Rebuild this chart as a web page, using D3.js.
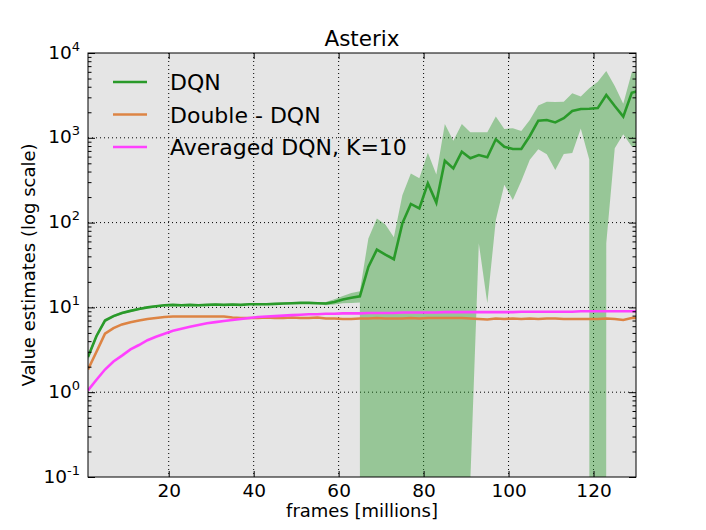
<!DOCTYPE html>
<html>
<head>
<meta charset="utf-8">
<script src="https://cdn.jsdelivr.net/npm/d3@7"></script>
<style>
    body { margin: 0; background: #fff; }
    text { font-family: "DejaVu Sans", sans-serif; fill: #000; }
</style>
</head>
<body>
<svg id="chart" width="706" height="530"></svg>
<script>
'use strict';

/*==============================
=            Data              =
==============================*/

// frames [millions], one sample every 2M frames (the last one falls just past the x limit)
var frames = [1, 3, 5, 7, 9, 11, 13, 15, 17, 19, 21, 23, 25, 27, 29, 31, 33, 35, 37, 39,
              41, 43, 45, 47, 49, 51, 53, 55, 57, 59, 61, 63, 65, 67, 69, 71, 73, 75, 77, 79,
              81, 83, 85, 87, 89, 91, 93, 95, 97, 99, 101, 103, 105, 107, 109, 111, 113, 115, 117, 119,
              121, 123, 125, 127, 129, 131];

var dqnMean = [2.6, 4.6, 7.0, 7.9, 8.6, 9.1, 9.6, 10.0, 10.3, 10.6, 10.7, 10.6, 10.7, 10.6, 10.7, 10.8, 10.7, 10.8, 10.7, 10.9,
               10.9, 10.9, 11.0, 11.1, 11.2, 11.3, 11.3, 11.2, 11.1, 11.6, 12.4, 13.0, 13.5, 30, 48, 42, 37, 98, 166, 147,
               290, 172, 537, 435, 686, 573, 627, 590, 960, 785, 738, 738, 1050, 1590, 1620, 1520, 1700, 2070, 2190, 2200,
               2240, 3200, 2370, 1780, 3400, 3600];

var dqnUpper = [2.8, 4.9, 7.3, 8.2, 8.9, 9.4, 9.9, 10.3, 10.6, 10.9, 11.0, 10.9, 11.0, 10.9, 11.0, 11.1, 11.0, 11.1, 11.0, 11.2,
                11.2, 11.2, 11.3, 11.4, 11.5, 11.6, 11.6, 11.5, 11.6, 12.5, 13.6, 14.8, 15.5, 65, 112, 95, 67, 210, 380, 333,
                667, 370, 1455, 925, 1455, 1160, 1160, 1160, 1780, 1270, 1300, 1200, 1620, 2400, 2670, 2650, 2670, 3350, 3060, 3840,
                4580, 6150, 4080, 2520, 5900, 6100];

// 0 means mean - std went non-positive: it drops off the bottom of the log axis
var dqnLower = [2.4, 4.3, 6.7, 7.6, 8.3, 8.8, 9.3, 9.7, 10.0, 10.3, 10.4, 10.3, 10.4, 10.3, 10.4, 10.5, 10.4, 10.5, 10.4, 10.6,
                10.6, 10.6, 10.7, 10.8, 10.9, 11.0, 11.0, 10.9, 10.6, 10.8, 11.2, 11.3, 11.4, 0, 0, 0, 0, 0, 0, 0,
                0, 0, 0, 0, 0, 0.09, 57, 11.2, 107, 280, 185, 310, 550, 735, 640, 417, 645, 660, 1285, 555,
                0, 57, 751, 1100, 790, 760];

var doubleDqn = [1.85, 3.0, 4.9, 5.7, 6.3, 6.7, 7.0, 7.3, 7.5, 7.7, 7.8, 7.8, 7.8, 7.8, 7.8, 7.8, 7.8, 7.6, 7.5, 7.5,
                 7.5, 7.6, 7.5, 7.5, 7.6, 7.5, 7.5, 7.6, 7.4, 7.4, 7.3, 7.3, 7.4, 7.4, 7.5, 7.4, 7.4, 7.4, 7.5, 7.4,
                 7.5, 7.5, 7.5, 7.5, 7.5, 7.4, 7.3, 7.2, 7.4, 7.3, 7.4, 7.3, 7.4, 7.3, 7.4, 7.4, 7.3, 7.3, 7.3, 7.3,
                 7.3, 7.4, 7.3, 7.1, 7.5, 7.5];

var averagedDqn = [1.05, 1.4, 1.85, 2.3, 2.7, 3.2, 3.6, 4.1, 4.5, 4.9, 5.3, 5.6, 5.9, 6.2, 6.5, 6.7, 6.9, 7.1, 7.3, 7.5,
                   7.7, 7.8, 7.9, 8.0, 8.1, 8.2, 8.3, 8.3, 8.4, 8.4, 8.5, 8.5, 8.5, 8.6, 8.6, 8.6, 8.6, 8.7, 8.7, 8.7,
                   8.7, 8.7, 8.8, 8.8, 8.8, 8.8, 8.8, 8.8, 8.8, 8.8, 8.8, 8.9, 8.9, 8.9, 8.9, 8.9, 8.9, 8.9, 9.0, 9.0,
                   9.0, 9.0, 9.0, 9.0, 9.0, 9.0];

var xTicks      = [20, 40, 60, 80, 100, 120];
var yDecades    = [1e-1, 1e0, 1e1, 1e2, 1e3, 1e4];
var yExponents  = ['-1', '0', '1', '2', '3', '4'];
var seriesNames = ['DQN', 'Double - DQN', 'Averaged DQN, K=10'];
var seriesColors = ['#2a9a2a', '#dd8444', '#ff40ff'];

/*=====  End of Data  ======*/

var svg = d3.select('#chart');
var margin = {top: 53, right: 70, bottom: 53, left: 88};
var width  = +svg.attr('width')  - margin.left - margin.right;
var height = +svg.attr('height') - margin.top  - margin.bottom;

var g = svg.append('g').attr('transform', 'translate(' + margin.left + ',' + margin.top + ')');

var x = d3.scaleLinear().domain([1, 130]).range([0, width]);
var y = d3.scaleLog().domain([1e-1, 1e4]).range([height, 0]);

// plot background
g.append('rect')
    .attr('width', width)
    .attr('height', height)
    .attr('fill', '#e5e5e5');

g.append('clipPath').attr('id', 'plot-clip')
    .append('rect').attr('width', width).attr('height', height);

/*==============================
=            Grid              =
==============================*/
g.append('g').selectAll('line').data(xTicks).enter().append('line')
    .attr('x1', function (d) { return x(d); })
    .attr('x2', function (d) { return x(d); })
    .attr('y1', 0).attr('y2', height)
    .attr('stroke', '#000').attr('stroke-width', 1)
    .attr('stroke-dasharray', '1,3');

g.append('g').selectAll('line').data(yDecades.slice(1, -1)).enter().append('line')
    .attr('y1', function (d) { return y(d); })
    .attr('y2', function (d) { return y(d); })
    .attr('x1', 0).attr('x2', width)
    .attr('stroke', '#000').attr('stroke-width', 1)
    .attr('stroke-dasharray', '1,3');

/*==============================
=            Marks             =
==============================*/
var plot = g.append('g').attr('clip-path', 'url(#plot-clip)');

// non-positive bounds are pushed far below the axis, as matplotlib clips them
var band = d3.area()
    .x(function (d, i) { return x(frames[i]); })
    .y0(function (d, i) { return y(dqnLower[i] > 0 ? dqnLower[i] : 1e-300); })
    .y1(function (d, i) { return y(dqnUpper[i]); });

plot.append('path')
    .datum(dqnMean)
    .attr('d', band)
    .attr('fill', seriesColors[0])
    .attr('fill-opacity', 0.42);

var line = d3.line()
    .x(function (d, i) { return x(frames[i]); })
    .y(function (d) { return y(d); });

[dqnMean, doubleDqn, averagedDqn].forEach(function (values, k) {
    plot.append('path')
        .datum(values)
        .attr('d', line)
        .attr('fill', 'none')
        .attr('stroke', seriesColors[k])
        .attr('stroke-width', 2.6)
        .attr('stroke-linejoin', 'miter');
});

/*==============================
=            Axes              =
==============================*/
var minorTicks = y.ticks().filter(function (d) { return yDecades.indexOf(d) < 0; });

function styleAxis(sel) {
    sel.select('.domain').remove();
    sel.selectAll('line').attr('stroke', '#000');
    sel.attr('font-family', null).attr('font-size', null);
}

var xAxis = g.append('g')
    .attr('transform', 'translate(0,' + height + ')')
    .call(d3.axisBottom(x).tickValues(xTicks).tickSizeInner(-6).tickSizeOuter(0).tickPadding(7))
    .call(styleAxis);
xAxis.selectAll('text').style('font-size', '18.5px');

g.append('g')
    .call(d3.axisTop(x).tickValues(xTicks).tickSizeInner(-6).tickSizeOuter(0).tickFormat(''))
    .call(styleAxis);

var yAxis = g.append('g')
    .call(d3.axisLeft(y).tickValues(yDecades).tickSizeInner(-7).tickSizeOuter(0).tickPadding(8)
        .tickFormat(function () { return ''; }))
    .call(styleAxis);

yAxis.selectAll('.tick text').each(function (d, i) {
    var t = d3.select(this);
    t.append('tspan').style('font-size', '18.5px').text('10');
    t.append('tspan').style('font-size', '13px').attr('dy', '-8').text(yExponents[i]);
});

g.append('g')
    .call(d3.axisLeft(y).tickValues(minorTicks).tickSizeInner(-3.5).tickSizeOuter(0).tickFormat(''))
    .call(styleAxis);

g.append('g')
    .attr('transform', 'translate(' + width + ',0)')
    .call(d3.axisRight(y).tickValues(yDecades).tickSizeInner(-7).tickSizeOuter(0).tickFormat(''))
    .call(styleAxis);

g.append('g')
    .attr('transform', 'translate(' + width + ',0)')
    .call(d3.axisRight(y).tickValues(minorTicks).tickSizeInner(-3.5).tickSizeOuter(0).tickFormat(''))
    .call(styleAxis);

// frame
g.append('rect')
    .attr('width', width)
    .attr('height', height)
    .attr('fill', 'none')
    .attr('stroke', '#000')
    .attr('stroke-width', 1);

/*==============================
=         Labels, legend       =
==============================*/
svg.append('text')
    .attr('x', margin.left + width / 2)
    .attr('y', 46)
    .attr('text-anchor', 'middle')
    .style('font-size', '21.5px')
    .text('Asterix');

svg.append('text')
    .attr('x', margin.left + width / 2)
    .attr('y', 517)
    .attr('text-anchor', 'middle')
    .style('font-size', '18px')
    .text('frames [millions]');

svg.append('text')
    .attr('transform', 'translate(35,' + (margin.top + height / 2) + ') rotate(-90)')
    .attr('text-anchor', 'middle')
    .style('font-size', '18px')
    .text('Value estimates (log scale)');

var legend = g.append('g').attr('transform', 'translate(25,29)')
    .selectAll('g').data(seriesNames).enter().append('g')
    .attr('transform', function (d, i) { return 'translate(0,' + (i * 32.5) + ')'; });

legend.append('line')
    .attr('x1', 0).attr('x2', 34)
    .attr('stroke', function (d, i) { return seriesColors[i]; })
    .attr('stroke-width', 2.6);

legend.append('text')
    .attr('x', 57)
    .attr('y', 8)
    .style('font-size', '22px')
    .text(function (d) { return d; });
</script>
</body>
</html>
